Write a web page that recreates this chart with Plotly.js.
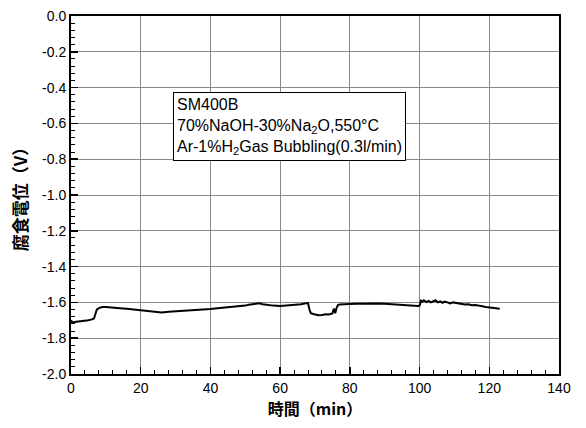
<!DOCTYPE html>
<html>
<head>
<meta charset="utf-8">
<script src="https://cdn.plot.ly/plotly-3.0.1.min.js"></script>
<style>html,body{margin:0;padding:0;background:#fff;}#chart{width:586px;height:428px;}</style>
</head>
<body>
<div id="chart"></div>
<script>
// Time (min)
const timeMin = [0, 0.5, 1, 2, 3, 4, 5, 6, 6.6, 7.0, 7.4, 8, 9, 10, 12, 14, 16, 18, 20, 22, 24, 26, 28, 30, 32, 34, 36, 38, 40, 42, 44, 46, 48, 50, 51, 52, 53, 54, 55, 56, 58, 60, 62, 64, 66, 67, 68, 68.4, 68.8, 69.5, 70, 71, 72, 73, 74, 75, 75.4, 75.8, 76.2, 76.6, 77, 78, 80, 82, 84, 86, 88, 90, 92, 94, 96, 98, 99.5, 100, 100.4, 100.8, 101.2, 102, 102.6, 103.2, 104, 104.6, 105.2, 106, 106.6, 107.2, 108, 108.8, 109.6, 110.4, 111.2, 112, 113, 114, 115, 116, 117, 118, 119, 120, 121, 122, 123];
// Corrosion potential (V)
const potential = [-1.70, -1.715, -1.71, -1.708, -1.705, -1.70, -1.70, -1.695, -1.69, -1.665, -1.64, -1.632, -1.626, -1.625, -1.627, -1.632, -1.636, -1.64, -1.645, -1.65, -1.655, -1.656, -1.652, -1.65, -1.648, -1.645, -1.642, -1.64, -1.637, -1.633, -1.63, -1.626, -1.622, -1.618, -1.613, -1.61, -1.607, -1.605, -1.61, -1.614, -1.618, -1.62, -1.618, -1.614, -1.61, -1.606, -1.604, -1.64, -1.66, -1.665, -1.668, -1.672, -1.67, -1.666, -1.668, -1.662, -1.635, -1.66, -1.63, -1.615, -1.612, -1.61, -1.609, -1.607, -1.606, -1.605, -1.606, -1.608, -1.611, -1.614, -1.616, -1.618, -1.62, -1.618, -1.59, -1.596, -1.588, -1.598, -1.592, -1.6, -1.595, -1.588, -1.6, -1.594, -1.602, -1.596, -1.6, -1.606, -1.6, -1.603, -1.608, -1.607, -1.612, -1.61, -1.616, -1.614, -1.62, -1.622, -1.626, -1.628, -1.632, -1.634, -1.636];
// Tick labels
const xTickVals = [0, 20, 40, 60, 80, 100, 120, 140];
const xTickText = ["0", "20", "40", "60", "80", "100", "120", "140"];
const yTickVals = [0, -0.2, -0.4, -0.6, -0.8, -1.0, -1.2, -1.4, -1.6, -1.8, -2.0];
const yTickText = ["0.0", "-0.2", "-0.4", "-0.6", "-0.8", "-1.0", "-1.2", "-1.4", "-1.6", "-1.8", "-2.0"];
const boxLines = ["SM400B", "70%NaOH-30%Na<sub>2</sub>O,550°C", "Ar-1%H<sub>2</sub>Gas Bubbling(0.3l/min)"];

const tickFont = {family: "Liberation Sans, Arial, sans-serif", size: 14, color: "#000"};
const cjk = "Noto Sans CJK JP, sans-serif";

const trace = {
  x: timeMin, y: potential, type: "scatter", mode: "lines",
  line: {color: "#000", width: 2}, hoverinfo: "skip"
};

const layout = {
  width: 586, height: 428,
  margin: {l: 71, r: 27, t: 16, b: 54},
  paper_bgcolor: "#fff", plot_bgcolor: "#fff",
  showlegend: false,
  xaxis: {
    range: [0, 140], tickmode: "array", tickvals: xTickVals, ticktext: xTickText,
    ticks: "inside", ticklen: 7, tickwidth: 1.5, tickcolor: "#000",
    minor: {tick0: 0, dtick: 4, ticks: "inside", ticklen: 4, tickcolor: "#000", tickwidth: 1, showgrid: false},
    showgrid: true, gridcolor: "#8a8a8a", gridwidth: 1,
    showline: true, linecolor: "#000", linewidth: 2, mirror: true,
    zeroline: false, tickfont: tickFont,
    title: {text: "時間（min）", font: {family: cjk, size: 16, color: "#000", weight: "bold"}, standoff: 8}
  },
  yaxis: {
    range: [-2.0, 0.0], tickmode: "array", tickvals: yTickVals, ticktext: yTickText,
    ticks: "inside", ticklen: 7, tickwidth: 1.5, tickcolor: "#000",
    minor: {tick0: 0, dtick: 0.04, ticks: "inside", ticklen: 4, tickcolor: "#000", tickwidth: 1, showgrid: false},
    showgrid: true, gridcolor: "#8a8a8a", gridwidth: 1,
    showline: true, linecolor: "#000", linewidth: 2, mirror: true,
    zeroline: false, tickfont: tickFont,
    title: {text: "腐食電位（V）", font: {family: cjk, size: 17, color: "#000", weight: "bold"}, standoff: 10}
  },
  annotations: [{
    xref: "paper", yref: "paper", x: 0.209, y: 0.788, xanchor: "left", yanchor: "top",
    text: boxLines.join("<br>"), align: "left", showarrow: false,
    font: {family: "Liberation Sans, Arial, sans-serif", size: 16, color: "#000"},
    bordercolor: "#000", borderwidth: 1, borderpad: 3, bgcolor: "#fff"
  }]
};

Plotly.newPlot("chart", [trace], layout, {displayModeBar: false, staticPlot: true});
</script>
</body>
</html>
